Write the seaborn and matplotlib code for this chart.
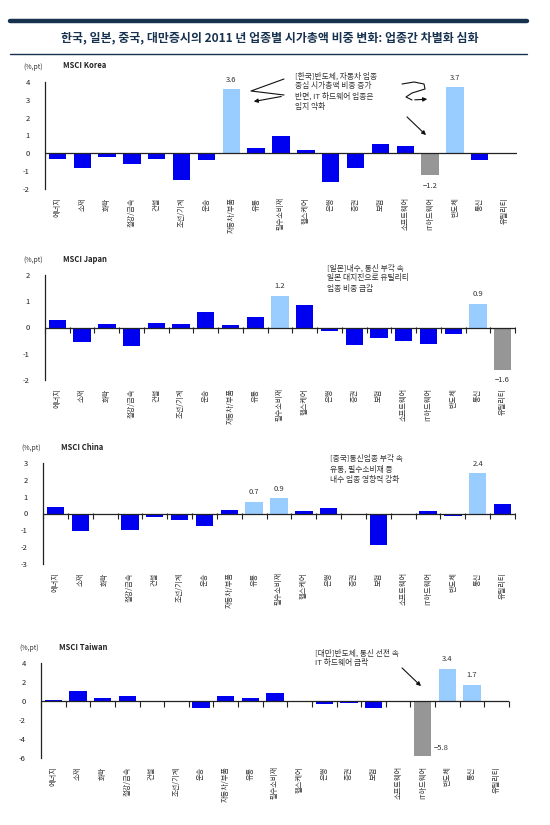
import numpy as np
import pandas as pd
import matplotlib
matplotlib.use("Agg")
import matplotlib.pyplot as plt
import seaborn as sns
from matplotlib.patches import FancyArrowPatch
from matplotlib.lines import Line2D

sns.set_style("white")
plt.rcParams['font.family'] = ['Noto Sans CJK KR', 'DejaVu Sans']
plt.rcParams['axes.unicode_minus'] = False

categories = ["에너지", "소재", "화학", "철강/금속", "건설", "조선/기계", "운송", "자동차/부품",
              "유통", "필수소비재", "헬스케어", "은행", "증권", "보험", "소프트웨어",
              "IT하드웨어", "반도체", "통신", "유틸리티"]

korea = [-0.3, -0.8, -0.2, -0.6, -0.3, -1.5, -0.4, 3.6, 0.3, 1.0, 0.2, -1.6, -0.8, 0.5, 0.4, -1.2, 3.7, -0.4, 0.0]
japan = [0.3, -0.55, 0.13, -0.7, 0.17, 0.13, 0.6, 0.09, 0.4, 1.2, 0.84, -0.13, -0.68, -0.39, -0.5, -0.62, -0.26, 0.9, -1.6]
china = [0.37, -1.03, 0.0, -0.99, -0.22, -0.36, -0.75, 0.2, 0.7, 0.9, 0.14, 0.32, 0.0, -1.85, 0.0, 0.14, -0.14, 2.4, 0.55]
taiwan = [0.1, 1.04, 0.31, 0.52, 0.0, 0.0, -0.73, 0.52, 0.31, 0.87, 0.0, -0.28, -0.17, -0.77, 0.0, -5.8, 3.4, 1.7, 0.0]

korea_up = ["자동차/부품", "반도체"]
korea_down = ["IT하드웨어"]
japan_up = ["필수소비재", "통신"]
japan_down = ["유틸리티"]
china_up = ["유통", "필수소비재", "통신"]
china_down = []
taiwan_up = ["반도체", "통신"]
taiwan_down = ["IT하드웨어"]

korea_ticks = [-2, -1, 0, 1, 2, 3, 4]
japan_ticks = [-2, -1, 0, 1, 2]
china_ticks = [-3, -2, -1, 0, 1, 2, 3]
taiwan_ticks = [-6, -4, -2, 0, 2, 4]

titles = ["MSCI Korea", "MSCI Japan", "MSCI China", "MSCI Taiwan"]
main_title = "한국, 일본, 중국, 대만증시의 2011 년 업종별 시가총액 비중 변화: 업종간 차별화 심화"

notes = [
    "[한국]반도체, 자동차 업종\n중심 시가총액 비중 증가\n반면, IT 하드웨어 업종은\n입지 약화",
    "[일본]내수, 통신 부각 속\n일본 대지진으로 유틸리티\n업종 비중 급감",
    "[중국]통신업종 부각 속\n유통, 필수소비재 등\n내수 업종 영향력 강화",
    "[대만]반도체, 통신 선전 속\nIT 하드웨어 급락",
]

BLUE = "#0000F0"
LIGHT = "#99CCFF"
GRAY = "#969696"
NAVY = "#17324F"

W, H = 550, 825
fig = plt.figure(figsize=(5.5, 8.25), dpi=100)

def fx(x):
    return x / W

def fy(y):
    return 1 - y / H

# header lines and title
fig.add_artist(Line2D([fx(10), fx(527)], [fy(21), fy(21)], color=NAVY, lw=3.2))
fig.add_artist(Line2D([fx(10), fx(527)], [fy(54), fy(54)], color=NAVY, lw=1.0))
fig.text(fx(270), fy(38), main_title, ha="center", va="center", fontsize=8.6,
         fontweight="bold", color=NAVY)

# panel layout in pixels: left, right, top, bottom
boxes = [(45, 517, 82, 189), (45, 515, 275, 380), (43, 515, 463, 564), (41, 509, 663, 758)]
datas = [korea, japan, china, taiwan]
ups = [korea_up, japan_up, china_up, taiwan_up]
downs = [korea_down, japan_down, china_down, taiwan_down]
tickss = [korea_ticks, japan_ticks, china_ticks, taiwan_ticks]
note_pos = [(295, 72), (327, 264), (330, 455), (315, 649)]

for i in range(4):
    l, r, t, b = boxes[i]
    ax = fig.add_axes([fx(l), fy(b), fx(r) - fx(l), fy(t) - fy(b)])
    df = pd.DataFrame({"cat": categories, "val": datas[i]})
    pal = {}
    for c in categories:
        if c in ups[i]:
            pal[c] = LIGHT
        elif c in downs[i]:
            pal[c] = GRAY
        else:
            pal[c] = BLUE
    sns.barplot(data=df, x="cat", y="val", hue="cat", palette=pal, legend=False,
                width=0.7, ax=ax, saturation=1, edgecolor="none")
    ticks = tickss[i]
    ax.set_ylim(ticks[0], ticks[-1])
    ax.set_xlim(-0.5, len(categories) - 0.5)
    ax.set_yticks(ticks)
    ax.set_yticklabels([str(v) for v in ticks], fontsize=5.5, color="#222222")
    ax.set_xlabel("")
    ax.set_ylabel("")
    ax.set_xticks(range(len(categories)))
    ax.set_xticklabels(categories, rotation=90, fontsize=5.2, color="#333333")
    ax.tick_params(axis="x", length=0, pad=6)
    ax.tick_params(axis="y", length=3, width=0.8, direction="out", pad=8, color="#222222")
    for s in ["top", "right", "bottom"]:
        ax.spines[s].set_visible(False)
    ax.spines["left"].set_color("#222222")
    ax.spines["left"].set_linewidth(0.9)
    ax.axhline(0, color="#222222", lw=0.9, zorder=3)
    # boundary ticks on zero line (not visible in the Korea panel)
    if i > 0:
        frac = (0 - ticks[0]) / (ticks[-1] - ticks[0])
        sec = ax.secondary_xaxis(frac)
        sec.set_xticks(np.arange(len(categories) + 1) - 0.5)
        sec.set_xticklabels([])
        sec.tick_params(length=4, width=0.8, direction="in", color="#222222")
        sec.spines["bottom"].set_visible(False)
        sec.spines["top"].set_visible(False)

    # value labels for highlighted bars
    for j, c in enumerate(categories):
        v = datas[i][j]
        if c in ups[i] or c in downs[i]:
            if v >= 0:
                ax.annotate(f"{v:.1f}", (j, v), xytext=(0, 4), textcoords="offset points",
                            ha="center", va="bottom", fontsize=5.5, color="#333333")
            elif i == 3:
                ax.annotate(f"{v:.1f}".replace("-", "−"), (j, v), xytext=(8, 3), textcoords="offset points",
                            ha="left", va="bottom", fontsize=5.5, color="#333333")
            else:
                ax.annotate(f"{v:.1f}".replace("-", "−"), (j, v), xytext=(0, -5), textcoords="offset points",
                            ha="center", va="top", fontsize=5.5, color="#333333")

    # panel header
    fig.text(fx(l - 22), fy(t - 15), "(%,pt)", fontsize=5, color="#333333", va="center", ha="left")
    fig.text(fx(l + 18), fy(t - 16), titles[i], fontsize=5.5, fontweight="bold",
             color="#222222", va="center", ha="left")
    nx, ny = note_pos[i]
    fig.text(fx(nx), fy(ny), notes[i], fontsize=5.6, color="#333333", va="top", ha="left",
             linespacing=1.35)

# Korea arrows
def fig_line(pts, arrow=False):
    xs = [fx(p[0]) for p in pts]
    ys = [fy(p[1]) for p in pts]
    if not arrow:
        fig.add_artist(Line2D(xs, ys, color="#111111", lw=0.8))
    else:
        fig.add_artist(Line2D(xs[:-1], ys[:-1], color="#111111", lw=0.8))
        fig.add_artist(FancyArrowPatch((xs[-2], ys[-2]), (xs[-1], ys[-1]),
                                       transform=fig.transFigure, arrowstyle="-|>",
                                       mutation_scale=6, color="#111111", lw=0.8))

fig_line([(284, 79), (251, 91), (284, 95)])
fig_line([(284, 96), (251, 102)], arrow=True)
fig_line([(402, 84), (414, 82), (424, 84), (425, 89), (412, 93), (406, 97), (412, 100), (430, 99)], arrow=True)
fig_line([(405, 115), (428, 137)], arrow=True)
# Taiwan arrow
fig_line([(400, 666), (423, 688)], arrow=True)

fig.savefig("out.png", dpi=100)
